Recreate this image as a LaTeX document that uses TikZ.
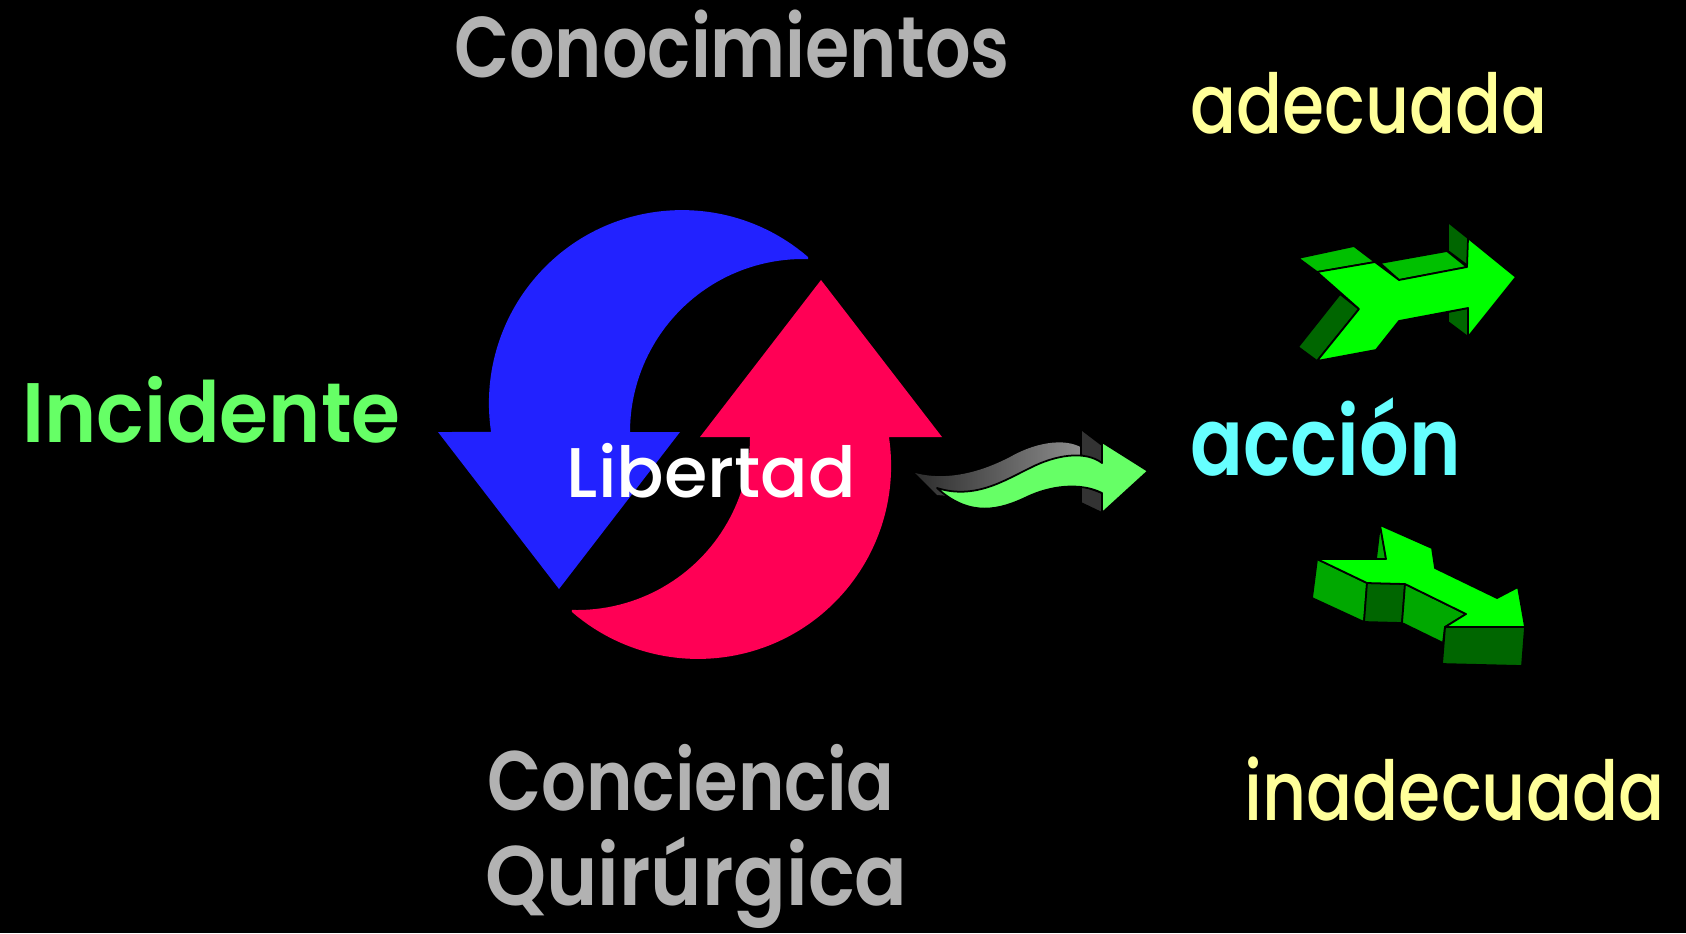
\documentclass[tikz,border=0pt]{standalone}
\usepackage{fontspec}
\usepackage{graphicx}
\setmainfont{Poppins}[UprightFont={* Medium}, BoldFont={* SemiBold}]
\definecolor{txtgray}{HTML}{B2B2B2}
\definecolor{txtyellow}{HTML}{FFFF99}
\definecolor{txtgreen}{HTML}{66FF66}
\definecolor{txtcyan}{HTML}{66FFFF}
\definecolor{arrblue}{HTML}{2222FF}
\definecolor{arrred}{HTML}{FF0055}
\definecolor{wavegreen}{HTML}{66FF66}
\definecolor{gfront}{HTML}{00FF00}
\definecolor{gmid}{HTML}{00C000}
\definecolor{gside}{HTML}{00A800}
\definecolor{gdark}{HTML}{006600}
\definecolor{panelgray}{HTML}{333333}
\newcommand{\fitw}[2]{\resizebox{#1}{\height}{#2}}
\tikzset{
  lbl/.style={anchor=base, inner sep=0pt, outer sep=0pt},
  face/.style={draw=black, line width=0.5pt, line join=round},
}
\begin{document}
\begin{tikzpicture}[x=0.01cm,y=-0.01cm]
\useasboundingbox (0,0) rectangle (1686,933);
\fill[black] (0,0) rectangle (1686,933);

% circular arrows
\fill[arrblue] (808,257) arc[start angle=-49.2, end angle=-188.6, radius=193]
  -- (438,432) -- (559,589) -- (680,432) -- (630,432)
  arc[start angle=180, end angle=271.7, radius=173] -- cycle;
\begin{scope}[rotate around={180:(690,434.5)}]
\fill[arrred] (808,257) arc[start angle=-49.2, end angle=-188.6, radius=193]
  -- (438,432) -- (559,589) -- (680,432) -- (630,432)
  arc[start angle=180, end angle=271.7, radius=173] -- cycle;
\end{scope}

% wavy arrow
\shade[left color=gray!35!black, right color=gray!80] (915,473)
  .. controls (950,482) and (985,470) .. (1010,457)
  .. controls (1040,440) and (1070,438) .. (1085,450)
  -- (1100,472) -- (1000,500) -- (937,495) -- cycle;
\draw[face, fill=panelgray] (1081,429) -- (1102,445) -- (1102,465) -- (1081,455) -- cycle;
\draw[face, fill=panelgray] (1081,485) -- (1102,493) -- (1102,513) -- (1081,503) -- cycle;
\draw[face, fill=wavegreen] (937,488)
  .. controls (975,500) and (1005,480) .. (1030,468)
  .. controls (1055,455) and (1085,450) .. (1102,463)
  -- (1102,442) -- (1148,471) -- (1102,513) -- (1102,493)
  .. controls (1080,482) and (1050,486) .. (1027,497)
  .. controls (1000,510) and (970,518) .. (937,488) -- cycle;

% upper 3D arrow
\draw[face, fill=gdark] (1448,222) -- (1468,238) -- (1468,266) -- (1448,251) -- cycle;
\draw[face, fill=gdark] (1448,312) -- (1468,308) -- (1468,337) -- (1448,322) -- cycle;
\draw[face, fill=gdark] (1298,347) -- (1317,361) -- (1359,309) -- (1340,294) -- cycle;
\draw[face, fill=gmid] (1298,258) -- (1354,246) -- (1375,262) -- (1317,272) -- cycle;
\draw[face, fill=gmid] (1380,263) -- (1447,251) -- (1467,267) -- (1399,280) -- cycle;
\draw[face, fill=gfront] (1317,272) -- (1375,262) -- (1399,280) -- (1467,267)
  -- (1468,238) -- (1516,277) -- (1468,337) -- (1468,308) -- (1399,321)
  -- (1376,350) -- (1317,361) -- (1359,309) -- cycle;

% lower 3D arrow
\draw[face, fill=gside] (1376,559) -- (1380,525) -- (1386,559) -- cycle;
\draw[face, fill=gside] (1317,559) -- (1367,583) -- (1364,622) -- (1312,598) -- cycle;
\draw[face, fill=gdark] (1367,583) -- (1405,584) -- (1402,623) -- (1364,622) -- cycle;
\draw[face, fill=gside] (1405,584) -- (1466,614) -- (1445,627) -- (1443,643) -- (1402,623) -- cycle;
\draw[face, fill=gdark] (1445,627) -- (1525,627) -- (1522,666) -- (1442,664) -- cycle;
\draw[face, fill=gfront] (1317,559) -- (1386,559) -- (1380,525) -- (1432,548)
  -- (1435,568) -- (1497,598) -- (1518,587) -- (1525,627) -- (1445,627)
  -- (1466,614) -- (1405,584) -- (1367,583) -- cycle;

% texts
\node[lbl, text=txtgray] (conoc) at (732,77)
  {\fitw{5.55cm}{\bfseries\fontsize{24.5pt}{29pt}\selectfont Conocimientos}};
\node[lbl, text=txtyellow] (adec) at (1369,133)
  {\fitw{3.57cm}{\fontsize{23.5pt}{28pt}\selectfont adecuada}};
\node[lbl, text=txtgreen] (incid) at (211.5,442)
  {\fitw{3.78cm}{\bfseries\fontsize{24pt}{29pt}\selectfont Incidente}};
\node[lbl, text=txtcyan] (accion) at (1326,475)
  {\fitw{2.70cm}{\bfseries\fontsize{27pt}{32pt}\selectfont acción}};
\node[lbl, text=white] (libertad) at (711.5,497)
  {\fitw{2.89cm}{\fontsize{20pt}{24pt}\selectfont Libertad}};
\node[lbl, text=txtgray] (concien) at (691,810)
  {\fitw{4.07cm}{\bfseries\fontsize{24pt}{29pt}\selectfont Conciencia}};
\node[lbl, text=txtgray] (quir) at (696.5,905)
  {\fitw{4.22cm}{\bfseries\fontsize{24pt}{29pt}\selectfont Quirúrgica}};
\node[lbl, text=txtyellow] (inadec) at (1454.5,820)
  {\fitw{4.20cm}{\fontsize{23.5pt}{28pt}\selectfont inadecuada}};
\end{tikzpicture}
\end{document}
